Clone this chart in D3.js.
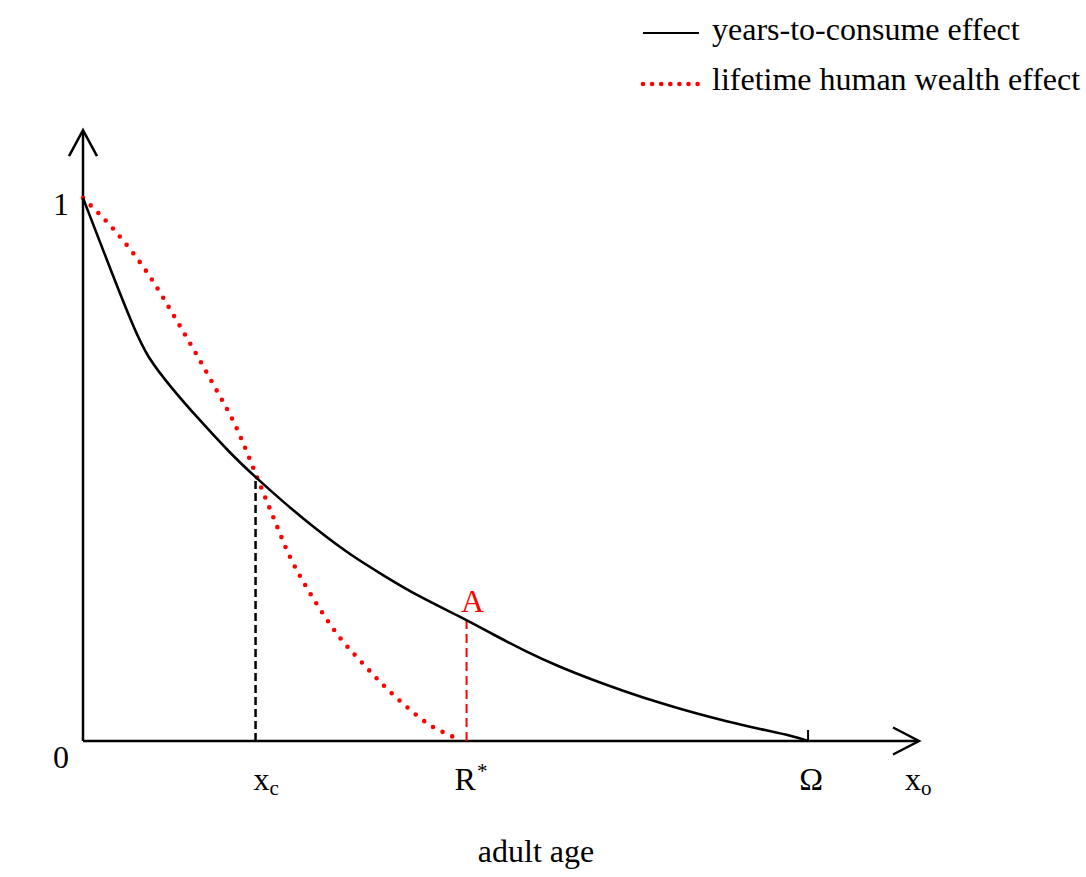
<!DOCTYPE html>
<html><head><meta charset="utf-8">
<script src="https://cdn.jsdelivr.net/npm/d3@7"></script>
<style>
body{margin:0;background:#fff}
text{font-family:"Liberation Serif","Times New Roman",serif;}
</style>
</head><body>
<svg id="c" width="1086" height="877"></svg>
<script>
// ---- data ----
const seriesNames = ["years-to-consume effect", "lifetime human wealth effect"];
const yearsX = [0, 4.18, 6.94, 8.79, 12.46, 15.68, 20.28, 23.86, 27.63, 32.23, 36.83, 41.43, 46.03, 52.46, 56.59, 61.2, 65.79, 70.39, 74.99, 79.59, 84.18, 88.78, 93.38, 97.97, 100];
const yearsY = [1, 0.855, 0.763, 0.708, 0.646, 0.597, 0.530, 0.485, 0.440, 0.389, 0.343, 0.305, 0.268, 0.226, 0.196, 0.164, 0.136, 0.112, 0.090, 0.070, 0.052, 0.036, 0.022, 0.009, 0];
const wealthX = [0, 4.18, 8.79, 13.38, 17.75, 21.2, 23.96, 26.25, 28.55, 30.62, 32.92, 35.45, 38.44, 41.42, 44.63, 48.23, 50.85, 52.1];
const wealthY = [1, 0.943, 0.864, 0.764, 0.662, 0.576, 0.487, 0.412, 0.339, 0.288, 0.238, 0.190, 0.145, 0.103, 0.063, 0.026, 0.009, 0];
const xCross = 23.8, rStar = 52.9, omega = 100, xMax = 115.3, yMax = 1.125;
const yTickValues = [0, 1];
const yTickLabels = ["0", "1"];
const xTickMain = ["x", "R", "\u03A9", "x"];
const xTickSub = ["c", "", "", "o"];
const xTickSup = ["", "*", "", ""];
const xTickValues = [xCross, rStar, omega, xMax];
const pointLabel = "A";
const xAxisTitle = "adult age";

// ---- scales ----
const svg = d3.select("#c");
const x = d3.scaleLinear().domain([0, xMax]).range([83, 919]);
const y = d3.scaleLinear().domain([0, 1]).range([741, 198]);
const FS = 32, SFS = 21;

const yearsData = yearsX.map((v, i) => [v, yearsY[i]]);
const wealthData = wealthX.map((v, i) => [v, wealthY[i]]);
const lineSmooth = d3.line().x(d => x(d[0])).y(d => y(d[1])).curve(d3.curveBasis);
const line = d3.line().x(d => x(d[0])).y(d => y(d[1])).curve(d3.curveMonotoneX);
const yearsAt = v => {
  for (let i = 1; i < yearsX.length; i++) if (v <= yearsX[i]) {
    const t = (v - yearsX[i-1]) / (yearsX[i] - yearsX[i-1]);
    return yearsY[i-1] + t * (yearsY[i] - yearsY[i-1]);
  }
  return 0;
};

// ---- axes ----
const ax = svg.append("g").attr("stroke", "#000").attr("stroke-width", 2.5).attr("fill", "none");
ax.append("line").attr("x1", x(0)).attr("y1", y(0)).attr("x2", x(0)).attr("y2", y(yMax) + 1);
ax.append("line").attr("x1", x(0)).attr("y1", y(0)).attr("x2", x(xMax) - 1).attr("y2", y(0));
ax.append("path").attr("d", `M${x(0)-14},${y(yMax)+26}L${x(0)},${y(yMax)}L${x(0)+14},${y(yMax)+26}`);
ax.append("path").attr("d", `M${x(xMax)-26},${y(0)-13.5}L${x(xMax)},${y(0)}L${x(xMax)-26},${y(0)+13.5}`);
ax.append("line").attr("x1", x(omega)).attr("y1", y(0)).attr("x2", x(omega)).attr("y2", y(0) - 11).attr("stroke-width", 2);

// ---- guide lines ----
svg.append("line").attr("x1", x(xCross)).attr("x2", x(xCross)).attr("y1", y(0)).attr("y2", y(yearsAt(xCross)))
  .attr("stroke", "#000").attr("stroke-width", 2.5).attr("stroke-dasharray", "8,4");
svg.append("line").attr("x1", x(rStar)).attr("x2", x(rStar)).attr("y1", y(0)).attr("y2", y(yearsAt(rStar)))
  .attr("stroke", "#ff0000").attr("stroke-width", 2).attr("stroke-dasharray", "9,5");

// ---- curves ----
svg.append("path").datum(wealthData).attr("d", line).attr("fill", "none")
  .attr("stroke", "#ff0000").attr("stroke-width", 4.6).attr("stroke-linecap", "round").attr("stroke-dasharray", "0,10.7");
svg.append("path").datum(yearsData).attr("d", lineSmooth).attr("fill", "none")
  .attr("stroke", "#000").attr("stroke-width", 2.6);

// ---- labels ----
const tg = svg.append("g").attr("fill", "#000").attr("font-size", FS);
yTickValues.forEach((v, i) => {
  tg.append("text").attr("x", x(0) - 22).attr("y", y(v) + (v === 0 ? 27 : 17)).attr("text-anchor", "middle").text(yTickLabels[i]);
});
const xLabelShift = [-2, -12, 3, -14];
const xLabelAnchor = ["start", "start", "middle", "start"];
xTickValues.forEach((v, i) => {
  const t = tg.append("text").attr("x", x(v) + xLabelShift[i]).attr("y", 790).attr("text-anchor", xLabelAnchor[i]);
  t.append("tspan").text(xTickMain[i]);
  if (xTickSub[i]) t.append("tspan").attr("font-size", SFS).attr("dy", 5).text(xTickSub[i]);
  if (xTickSup[i]) t.append("tspan").attr("font-size", SFS).attr("dy", -12).attr("dx", 1).text(xTickSup[i]);
});
tg.append("text").attr("x", x(rStar) + 6).attr("y", y(yearsAt(rStar)) - 8).attr("text-anchor", "middle").attr("fill", "#ff0000").text(pointLabel);
tg.append("text").attr("x", 536).attr("y", 862).attr("text-anchor", "middle").text(xAxisTitle);

// ---- legend ----
const lg = svg.append("g");
const legendStyles = [{stroke: "#000", w: 2, dash: null}, {stroke: "#ff0000", w: 4.6, dash: "0,9.1"}];
seriesNames.forEach((name, i) => {
  const yy = 33 + i * 51;
  const st = legendStyles[i];
  const l = lg.append("line").attr("x1", 643).attr("x2", 699).attr("y1", yy).attr("y2", yy)
    .attr("stroke", st.stroke).attr("stroke-width", st.w);
  if (st.dash) l.attr("stroke-dasharray", st.dash).attr("stroke-linecap", "round");
  lg.append("text").attr("x", 712).attr("y", yy + 7 + (i ? -1 : 0)).attr("font-size", FS).attr("fill", "#000").text(name);
});
</script>
</body></html>
